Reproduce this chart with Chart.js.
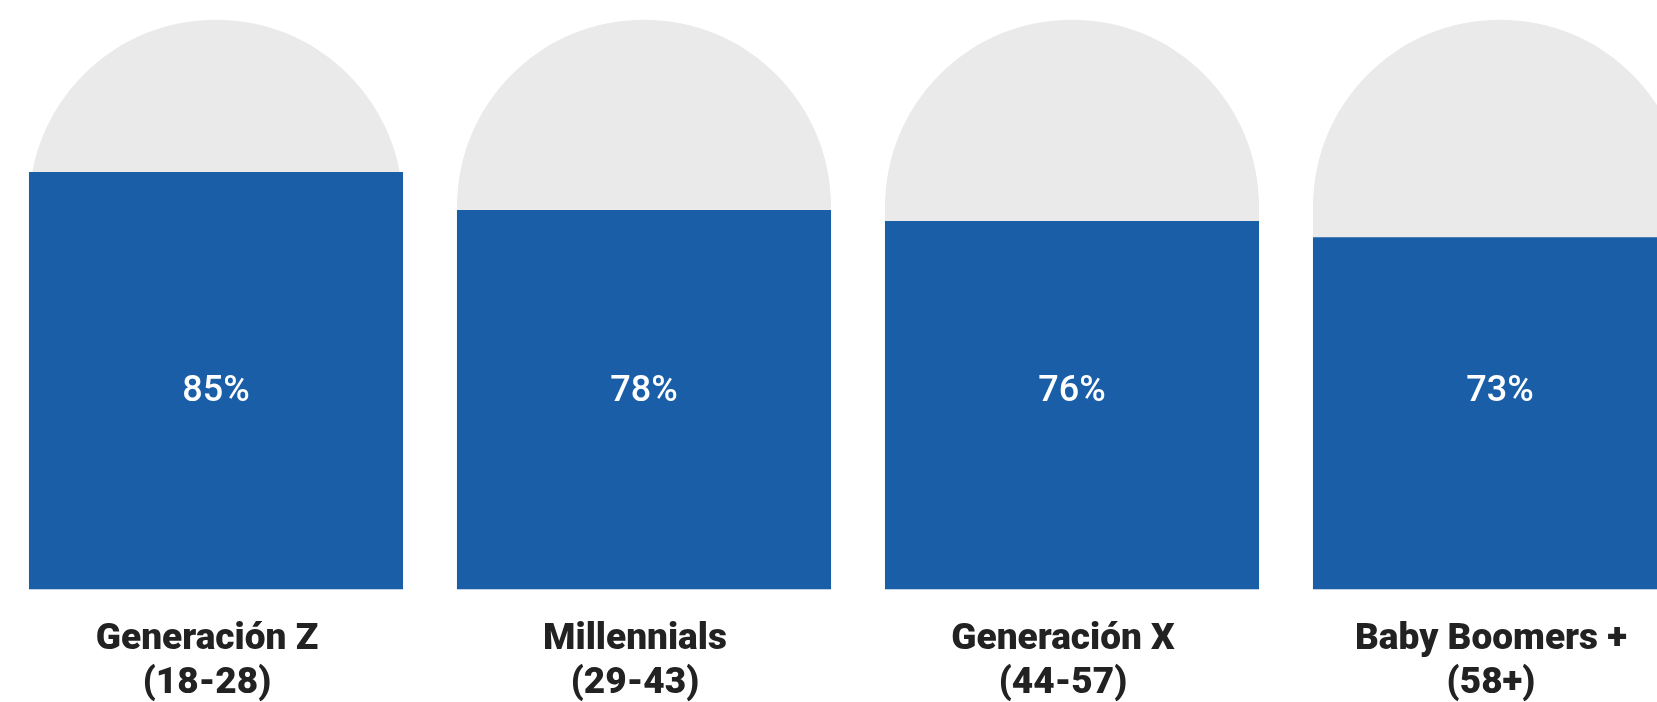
<!DOCTYPE html>
<html lang="es">
<head>
<meta charset="utf-8">
<title>Generaciones</title>
<script src="https://cdn.jsdelivr.net/npm/chart.js@4/dist/chart.umd.min.js"></script>
<style>
  html, body { margin: 0; padding: 0; background: #ffffff; overflow: hidden; }
  #wrap { width: 1714px; height: 734px; position: relative; }
</style>
</head>
<body>
<div id="wrap"><canvas id="genChart"></canvas></div>
<script>
// ---- data ----
const generations = [
  ["Generación Z", "(18-28)"],
  ["Millennials", "(29-43)"],
  ["Generación X", "(44-57)"],
  ["Baby Boomers +", "(58+)"]
];
const shares = [85, 78, 76, 73];          // % per generation
const trackValues = [113, 113, 113, 113]; // grey rounded track behind each bar

// ---- look ----
const BLUE = "#1B5EA8";
const GREY = "#EAEAEA";
const INK = "#222222";
const LABEL_LEVEL = 44.6; // y value where the % labels sit

// writes "85%" etc. inside each blue bar
const valueLabels = {
  id: "valueLabels",
  afterDatasetsDraw(chart) {
    const ctx = chart.ctx;
    const meta = chart.getDatasetMeta(0);
    const y = chart.scales.y.getPixelForValue(LABEL_LEVEL);
    ctx.save();
    ctx.fillStyle = "#ffffff";
    ctx.font = "500 36px Roboto";
    ctx.textAlign = "center";
    ctx.textBaseline = "middle";
    meta.data.forEach((bar, i) => {
      ctx.fillText(shares[i] + "%", bar.x, y);
    });
    ctx.restore();
  }
};

new Chart(document.getElementById("genChart"), {
  type: "bar",
  data: {
    labels: generations,
    datasets: [
      {
        data: shares,
        backgroundColor: BLUE,
        borderWidth: 0,
        grouped: false,
        categoryPercentage: 1,
        barPercentage: 0.874
      },
      {
        data: trackValues,
        backgroundColor: GREY,
        borderWidth: 0,
        grouped: false,
        categoryPercentage: 1,
        barPercentage: 0.874,
        borderRadius: { topLeft: 999, topRight: 999, bottomLeft: 0, bottomRight: 0 },
        borderSkipped: false
      }
    ]
  },
  options: {
    responsive: true,
    maintainAspectRatio: false,
    animation: false,
    events: [],
    layout: { padding: { left: 2, top: 18, right: 0, bottom: 0 } },
    plugins: {
      legend: { display: false },
      tooltip: { enabled: false }
    },
    scales: {
      x: {
        grid: { display: false, drawTicks: false },
        border: { display: false },
        ticks: {
          color: INK,
          font: { family: "Roboto", size: 37, weight: 900, lineHeight: 1.2 },
          padding: 28,
          labelOffset: -9,
          maxRotation: 0,
          autoSkip: false
        }
      },
      y: {
        display: false,
        min: 8.3,
        max: 113.3
      }
    }
  },
  plugins: [valueLabels]
});
</script>
</body>
</html>
